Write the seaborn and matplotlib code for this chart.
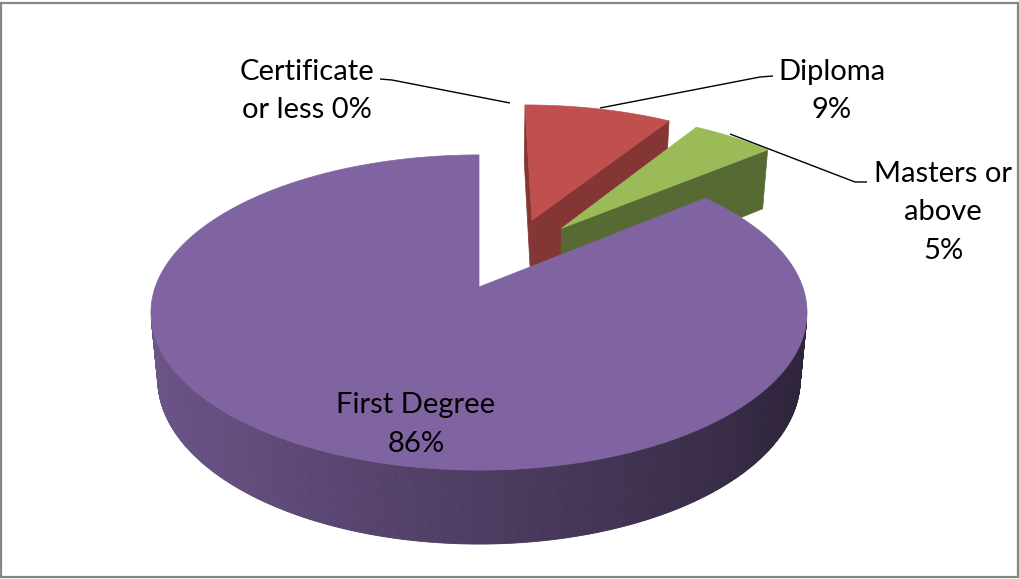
import numpy as np
import matplotlib
matplotlib.use("Agg")
import matplotlib.pyplot as plt
from matplotlib.patches import Polygon, Rectangle
import seaborn as sns

# ---- data -------------------------------------------------------------
categories = ["Certificate or less", "Diploma", "Masters or above", "First Degree"]
shares = [0, 9, 5, 86]
label_lines = [["Certificate", "or less 0%"], ["Diploma", "9%"],
               ["Masters or", "above", "5%"], ["First Degree", "86%"]]

# ---- style ------------------------------------------------------------
sns.set_theme(style="white")
plt.rcParams["font.family"] = ["Lato", "DejaVu Sans"]

top_colors = sns.color_palette(["#4F81BD", "#C0504D", "#9BBB59", "#8064A2"])
side_colors = sns.color_palette(["#385D8A", "#843634", "#586A33", "#8064A2"])
# explosion: (distance, direction in degrees clockwise from 12 o'clock)
explode = [(0.5, 0.0), (0.5, 20.6), (0.49, 33.7), (0.0, 0.0)]

# ---- camera -----------------------------------------------------------
ELEV = np.radians(28.3)
DIST = 5.44
SCALE = 1761.0
CX, CY = 479.0, 287.0
THICK = 0.236
CE, SE = np.cos(ELEV), np.sin(ELEV)
CAM = np.array([0.0, -DIST * CE, DIST * SE])


def project(x, y, z):
    d = DIST + y * CE - z * SE
    return CX + SCALE * x / d, CY - SCALE * (y * SE + z * CE) / d


def visible(normal, point):
    return np.dot(normal, CAM - np.asarray(point)) > 0


def shade(color, f):
    return tuple(min(1.0, max(0.0, c * f)) for c in color)


fig = plt.figure(figsize=(10.2, 5.79), dpi=100)
ax = fig.add_axes([0, 0, 1, 1])
ax.set_xlim(0, 1020)
ax.set_ylim(579, 0)
ax.axis("off")

total = float(sum(shares))
starts = np.cumsum([0] + shares[:-1]) / total * 360.0
ends = np.cumsum(shares) / total * 360.0

pieces = []
for i, share in enumerate(shares):
    if share <= 0:
        continue
    a0, a1 = np.radians(starts[i]), np.radians(ends[i])
    dist, ang = explode[i]
    ox, oy = dist * np.sin(np.radians(ang)), dist * np.cos(np.radians(ang))
    mid = 0.5 * (a0 + a1)
    depth = oy + 0.6 * np.cos(mid)
    pieces.append((depth, i, a0, a1, ox, oy))

# far pieces first
pieces.sort(key=lambda p: -p[0])

for depth, i, a0, a1, ox, oy in pieces:
    n = max(6, int(np.degrees(a1 - a0) * 3))
    al = np.linspace(a0, a1, n)
    rx = ox + np.sin(al)
    ry = oy + np.cos(al)
    base = top_colors[i]

    # outer rim wall, lit from the left
    for k in range(n - 1):
        am = 0.5 * (al[k] + al[k + 1])
        nrm = np.array([np.sin(am), np.cos(am), 0.0])
        pm = [ox + np.sin(am), oy + np.cos(am), 0.0]
        if not visible(nrm, pm):
            continue
        f = 0.6 - 0.25 * np.sin(am)
        pts = [project(rx[k], ry[k], 0), project(rx[k + 1], ry[k + 1], 0),
               project(rx[k + 1], ry[k + 1], -THICK), project(rx[k], ry[k], -THICK)]
        col = shade(base, f)
        ax.add_patch(Polygon(pts, closed=True, facecolor=col, edgecolor=col,
                             linewidth=0.6))

    # radial cut faces
    for a, nrm in ((a0, np.array([-np.cos(a0), np.sin(a0), 0.0])),
                   (a1, np.array([np.cos(a1), -np.sin(a1), 0.0]))):
        px, py = ox + 0.5 * np.sin(a), oy + 0.5 * np.cos(a)
        if not visible(nrm, [px, py, -THICK / 2]):
            continue
        ex, ey = ox + np.sin(a), oy + np.cos(a)
        pts = [project(ox, oy, 0), project(ex, ey, 0),
               project(ex, ey, -THICK), project(ox, oy, -THICK)]
        col = side_colors[i]
        ax.add_patch(Polygon(pts, closed=True, facecolor=col, edgecolor=col,
                             linewidth=0.5))

    # top face
    top = [project(ox, oy, 0)] + [project(x, y, 0) for x, y in zip(rx, ry)]
    ax.add_patch(Polygon(top, closed=True, facecolor=base, edgecolor=base,
                         linewidth=0.5))

# ---- labels -----------------------------------------------------------
label_pos = [(307, 80), (832, 80), (943, 182), (416, 413)]
LINE_STEP = 38.5
for lines, (x, y0) in zip(label_lines, label_pos):
    for j, line in enumerate(lines):
        ax.text(x, y0 + j * LINE_STEP, line, ha="center", va="baseline",
                fontsize=21, color="black")

leaders = [[(380, 79), (392, 80), (510, 103)],
           [(773, 76), (760, 77), (600, 108)],
           [(730, 134), (855, 182), (867, 182)]]
for path in leaders:
    xs, ys = zip(*path)
    ax.plot(xs, ys, color="black", linewidth=1.0, solid_capstyle="butt")

# chart frame
fig.patches.append(Rectangle((1.0 / 1020, 2.0 / 579), 1017.5 / 1020, 574.5 / 579,
                             transform=fig.transFigure, fill=False,
                             edgecolor="#868686", linewidth=1.6))

fig.savefig("out.png", dpi=100, facecolor="white")
